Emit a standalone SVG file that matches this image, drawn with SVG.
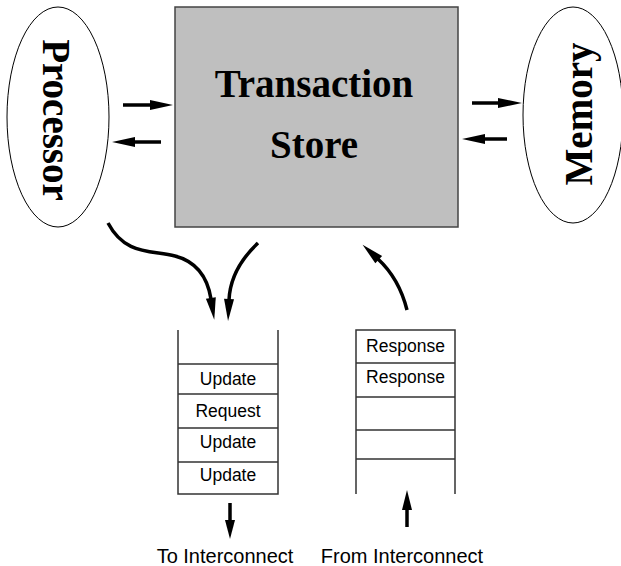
<svg xmlns="http://www.w3.org/2000/svg" width="621" height="566" viewBox="0 0 621 566">
<style>
.title{font-family:"Liberation Serif","Times New Roman",serif;font-weight:bold;font-size:39px;fill:#000;text-anchor:middle}
.cell{font-family:"Liberation Sans",Arial,sans-serif;font-size:17.5px;fill:#000;text-anchor:middle}
.lbl{font-family:"Liberation Sans",Arial,sans-serif;font-size:20px;fill:#000;text-anchor:middle}
.q{stroke:#333;stroke-width:1.5;fill:none}
.arr{stroke:#000;stroke-width:3.5;fill:none}
.head{fill:#000;stroke:none}
</style>
<defs>
<marker id="ah" markerUnits="userSpaceOnUse" markerWidth="24" markerHeight="12" refX="1" refY="5" orient="auto" overflow="visible">
<path d="M0,0 L22,5 L0,10 z" fill="#000"/>
</marker>
</defs>
<g id="processor">
<ellipse cx="58" cy="117" rx="51" ry="110" fill="#fff" stroke="#000" stroke-width="1"/>
<text class="title" transform="translate(43,120) rotate(90)">Processor</text>
</g>
<g id="transaction-store">
<rect x="175" y="7" width="283" height="220" fill="#bfbfbf" stroke="#444" stroke-width="1.5"/>
<text class="title" x="314" y="97">Transaction</text>
<text class="title" x="314" y="158">Store</text>
</g>
<g id="memory">
<ellipse cx="573" cy="115" rx="50" ry="108" fill="#fff" stroke="#000" stroke-width="1"/>
<text class="title" transform="translate(592,114) rotate(-90)">Memory</text>
</g>
<g id="out-queue">
<path class="q" d="M178,330 V494 H278 V330"/>
<path class="q" d="M178,364 H278 M178,394 H278 M178,428 H278 M178,462 H278"/>
<text class="cell" x="228" y="385">Update</text>
<text class="cell" x="228" y="417">Request</text>
<text class="cell" x="228" y="448">Update</text>
<text class="cell" x="228" y="481">Update</text>
</g>
<g id="in-queue">
<path class="q" d="M356,494 V330 H455 V494"/>
<path class="q" d="M356,363 H455 M356,397 H455 M356,430 H455 M356,459 H455"/>
<text class="cell" x="405.5" y="352">Response</text>
<text class="cell" x="405.5" y="383">Response</text>
</g>
<g id="labels">
<text class="lbl" x="225" y="563">To Interconnect</text>
<text class="lbl" x="402" y="563">From Interconnect</text>
</g>
<g id="connectors">
<line class="arr" x1="123" y1="105" x2="152" y2="105"/>
<polygon class="head" points="150,100 173,105 150,110"/>
<line class="arr" x1="161" y1="142" x2="133" y2="142"/>
<polygon class="head" points="135,137 112,142 135,147"/>
<line class="arr" x1="472" y1="103" x2="500" y2="103"/>
<polygon class="head" points="498,98 522,103 498,108"/>
<line class="arr" x1="507" y1="139" x2="483" y2="139"/>
<polygon class="head" points="485,134 462,139 485,144"/>
<path class="arr" d="M108,223 C125,255 150,250 175,256 C198,262 208,280 211,299" marker-end="url(#ah)"/>
<path class="arr" d="M258,243 C240,260 230,278 229,300" marker-end="url(#ah)"/>
<path class="arr" d="M407,310 C402,290 392,272 378,259" marker-end="url(#ah)"/>
<line class="arr" x1="230" y1="503" x2="230" y2="522"/>
<polygon class="head" points="225,520 230,539 235,520"/>
<line class="arr" x1="407" y1="527" x2="407" y2="508"/>
<polygon class="head" points="402,510 407,490 412,510"/>
</g>
</svg>
